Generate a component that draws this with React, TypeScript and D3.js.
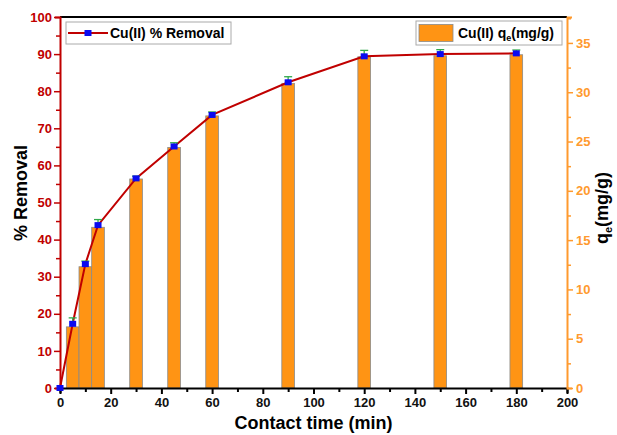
import { useRef, useEffect } from 'react';
import * as d3 from 'd3';

// contact time (min)
const times = [0, 5, 10, 15, 30, 45, 60, 90, 120, 150, 180];
// Cu(II) % removal
const removal = [0, 17.3, 33.4, 43.9, 56.5, 65.1, 73.6, 82.4, 89.4, 90.0, 90.2];
const removalErr = [0, 1.6, 0.8, 1.5, 0.6, 1.0, 0.8, 1.5, 1.6, 1.2, 0.9];
// Cu(II) qe (mg/g), no bar at t = 0
const qeTimes = [5, 10, 15, 30, 45, 60, 90, 120, 150, 180];
const qe = [6.2, 12.3, 16.3, 21.2, 24.4, 27.6, 30.9, 33.6, 33.7, 33.8];

const RED = '#c00000';
const ORANGE = '#ff9a2e';
const BAR = '#ff9414';
const FONT = '"Liberation Sans", Arial, sans-serif';

const App = () => {
  const ref = useRef<SVGSVGElement>(null);
  const width = 617;
  const height = 435;
  const m = { left: 60, right: 567, top: 17, bottom: 388 };

  useEffect(() => {
    const svg = d3.select(ref.current);
    svg.selectAll('*').remove();

    const x = d3.scaleLinear().domain([0, 200]).range([m.left, m.right]);
    const yL = d3.scaleLinear().domain([0, 100]).range([m.bottom, m.top]);
    const yR = d3.scaleLinear().domain([0, 37.63]).range([m.bottom, m.top]);

    // bars
    const bw = x(5) - x(0);
    svg.append('g')
      .selectAll('rect')
      .data(qeTimes)
      .enter()
      .append('rect')
      .attr('x', (d) => x(d) - bw / 2)
      .attr('y', (_, i) => yR(qe[i]))
      .attr('width', bw)
      .attr('height', (_, i) => m.bottom - yR(qe[i]))
      .attr('fill', BAR)
      .attr('stroke', '#8a8a8a')
      .attr('stroke-width', 0.8);

    // frame top
    svg.append('line')
      .attr('x1', m.left).attr('x2', m.right)
      .attr('y1', m.top).attr('y2', m.top)
      .attr('stroke', '#000').attr('stroke-width', 2);

    // bottom axis
    const bottom = svg.append('g').attr('transform', `translate(0,${m.bottom})`);
    bottom.call(
      d3.axisBottom(x).tickValues(d3.range(0, 201, 10)).tickSize(5)
        .tickFormat((d) => ((d as number) % 20 === 0 ? String(d) : ''))
    );
    bottom.select('.domain').attr('stroke', '#000').attr('stroke-width', 2);
    bottom.selectAll('.tick line').attr('stroke', '#000').attr('stroke-width', 2)
      .attr('y2', (d) => ((d as number) % 20 === 0 ? 6 : 4));
    bottom.selectAll('.tick text')
      .attr('font-family', FONT).attr('font-size', 13).attr('font-weight', 'bold')
      .attr('fill', '#111').attr('dy', '0.85em');

    // left axis
    const left = svg.append('g').attr('transform', `translate(${m.left},0)`);
    left.call(
      d3.axisLeft(yL).tickValues(d3.range(0, 101, 5)).tickSize(5)
        .tickFormat((d) => ((d as number) % 10 === 0 ? String(d) : ''))
    );
    left.select('.domain').attr('stroke', RED).attr('stroke-width', 2);
    left.selectAll('.tick line').attr('stroke', RED).attr('stroke-width', 1.5)
      .attr('x2', (d) => ((d as number) % 10 === 0 ? -6 : -4));
    left.selectAll('.tick text')
      .attr('font-family', FONT).attr('font-size', 13).attr('font-weight', 'bold')
      .attr('fill', RED).attr('x', -8);

    // right axis
    const right = svg.append('g').attr('transform', `translate(${m.right},0)`);
    right.call(
      d3.axisRight(yR).tickValues(d3.range(0, 37.6, 2.5)).tickSize(5)
        .tickFormat((d) => ((d as number) % 5 === 0 ? String(d) : ''))
    );
    right.select('.domain').attr('stroke', ORANGE).attr('stroke-width', 2);
    right.selectAll('.tick line').attr('stroke', ORANGE).attr('stroke-width', 1.5)
      .attr('x2', (d) => ((d as number) % 5 === 0 ? 6 : 4));
    right.selectAll('.tick text')
      .attr('font-family', FONT).attr('font-size', 13).attr('font-weight', 'bold')
      .attr('fill', ORANGE).attr('x', 9);

    // removal line
    const line = d3.line<number>().x((_, i) => x(times[i])).y((d) => yL(d));
    svg.append('path')
      .datum(removal)
      .attr('d', line)
      .attr('fill', 'none')
      .attr('stroke', RED)
      .attr('stroke-width', 2);

    // error bars (upper)
    const eg = svg.append('g').attr('stroke', '#2fa84a').attr('stroke-width', 1.3);
    removal.forEach((v, i) => {
      if (!removalErr[i]) return;
      const cx = x(times[i]);
      const y1 = yL(v + removalErr[i]);
      eg.append('line').attr('x1', cx).attr('x2', cx).attr('y1', yL(v)).attr('y2', y1);
      eg.append('line').attr('x1', cx - 4).attr('x2', cx + 4).attr('y1', y1).attr('y2', y1);
    });

    // markers
    svg.append('g')
      .selectAll('rect')
      .data(removal)
      .enter()
      .append('rect')
      .attr('x', (_, i) => x(times[i]) - 3.5)
      .attr('y', (d) => yL(d) - 3)
      .attr('width', 7)
      .attr('height', 6)
      .attr('fill', '#0a0af0');

    // axis titles
    svg.append('text')
      .attr('transform', 'translate(27,193) rotate(-90)')
      .attr('text-anchor', 'middle')
      .attr('font-family', FONT).attr('font-size', 18).attr('font-weight', 'bold')
      .text('% Removal');

    const rt = svg.append('text')
      .attr('transform', 'translate(608,208) rotate(-90)')
      .attr('text-anchor', 'middle')
      .attr('font-family', FONT).attr('font-size', 18).attr('font-weight', 'bold');
    rt.append('tspan').text('q');
    rt.append('tspan').attr('font-size', 11).attr('dy', 4).text('e');
    rt.append('tspan').attr('dy', -4).text('(mg/g)');

    svg.append('text')
      .attr('x', (m.left + m.right) / 2)
      .attr('y', 429)
      .attr('text-anchor', 'middle')
      .attr('font-family', FONT).attr('font-size', 18).attr('font-weight', 'bold')
      .text('Contact time (min)');

    // legend: removal
    const lg = svg.append('g').attr('transform', 'translate(66,22)');
    lg.append('rect').attr('width', 165).attr('height', 22)
      .attr('fill', '#fff').attr('stroke', '#aaa').attr('stroke-width', 1);
    lg.append('line').attr('x1', 2).attr('x2', 42).attr('y1', 11).attr('y2', 11)
      .attr('stroke', RED).attr('stroke-width', 2);
    lg.append('rect').attr('x', 18.5).attr('y', 8).attr('width', 7).attr('height', 6).attr('fill', '#0a0af0');
    lg.append('text').attr('x', 44).attr('y', 16)
      .attr('font-family', FONT).attr('font-size', 14).attr('font-weight', 'bold')
      .text('Cu(II) % Removal');

    // legend: qe
    const rg = svg.append('g').attr('transform', 'translate(416,21)');
    rg.append('rect').attr('width', 146).attr('height', 24)
      .attr('fill', '#fff').attr('stroke', '#aaa').attr('stroke-width', 1);
    rg.append('rect').attr('x', 3).attr('y', 3.5).attr('width', 34).attr('height', 17)
      .attr('fill', BAR).attr('stroke', '#8a8a8a').attr('stroke-width', 0.8);
    const lt = rg.append('text').attr('x', 42).attr('y', 17)
      .attr('font-family', FONT).attr('font-size', 14).attr('font-weight', 'bold');
    lt.append('tspan').text('Cu(II) q');
    lt.append('tspan').attr('font-size', 9).attr('dy', 3).text('e');
    lt.append('tspan').attr('dy', -3).text('(mg/g)');
  }, []);

  return (
    <svg ref={ref} width={width} height={height} style={{ display: 'block', position: 'absolute', left: 0, top: 0 }} />
  );
};

export default App;
